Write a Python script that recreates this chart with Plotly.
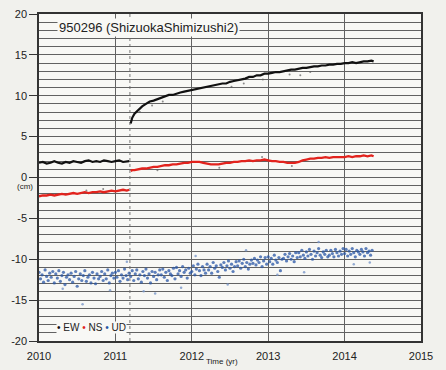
import plotly.graph_objects as go

QUAKE = 2011.19
YEAR_TICKS = [2010, 2011, 2012, 2013, 2014, 2015]
Y_TICKS = [-20, -15, -10, -5, 0, 5, 10, 15, 20]

PRE_T = [2010.00, 2010.05, 2010.10, 2010.15, 2010.20, 2010.25, 2010.30, 2010.35, 2010.40,
         2010.45, 2010.50, 2010.55, 2010.60, 2010.65, 2010.70, 2010.75, 2010.80, 2010.85,
         2010.90, 2010.95, 2011.00, 2011.05, 2011.10, 2011.15, 2011.18]
POST_T = [2011.20, 2011.22, 2011.25, 2011.30, 2011.35, 2011.40, 2011.45, 2011.50, 2011.55,
          2011.60, 2011.65, 2011.70, 2011.75, 2011.80, 2011.85, 2011.90, 2011.95, 2012.00,
          2012.05, 2012.10, 2012.15, 2012.20, 2012.25, 2012.30, 2012.35, 2012.40, 2012.45,
          2012.50, 2012.55, 2012.60, 2012.65, 2012.70, 2012.75, 2012.80, 2012.85, 2012.90,
          2012.95, 2013.00, 2013.05, 2013.10, 2013.15, 2013.20, 2013.25, 2013.30, 2013.35,
          2013.40, 2013.45, 2013.50, 2013.55, 2013.60, 2013.65, 2013.70, 2013.75, 2013.80,
          2013.85, 2013.90, 2013.95, 2014.00, 2014.05, 2014.10, 2014.15, 2014.20, 2014.25,
          2014.30, 2014.35, 2014.38]

EW_PRE = [1.8, 1.9, 1.7, 1.8, 2.0, 1.8, 1.7, 1.9, 1.8, 2.0, 1.9, 1.8, 2.0, 2.1, 1.9, 2.0,
          1.9, 2.1, 2.0, 1.9, 2.0, 2.1, 1.9, 2.0, 2.0]
EW_POST = [6.6, 7.3, 7.8, 8.3, 8.7, 9.0, 9.3, 9.4, 9.6, 9.8, 9.9, 10.1, 10.1, 10.3, 10.4,
           10.5, 10.6, 10.7, 10.8, 10.9, 11.0, 11.1, 11.2, 11.3, 11.4, 11.5, 11.5, 11.7,
           11.8, 11.9, 12.0, 12.1, 12.3, 12.3, 12.5, 12.5, 12.7, 12.7, 12.8, 12.9, 12.9,
           13.0, 13.1, 13.2, 13.2, 13.3, 13.4, 13.4, 13.5, 13.6, 13.6, 13.7, 13.7, 13.8,
           13.8, 13.9, 13.9, 14.0, 14.0, 14.1, 14.0, 14.1, 14.2, 14.2, 14.3, 14.2]
NS_PRE = [-2.3, -2.2, -2.2, -2.1, -2.2, -2.1, -2.0, -2.1, -2.0, -1.9, -2.0, -1.9, -1.8,
          -1.9, -1.8, -1.8, -1.7, -1.8, -1.7, -1.6, -1.7, -1.6, -1.5, -1.6, -1.5]
NS_POST = [0.8, 0.9, 0.9, 1.0, 1.1, 1.1, 1.2, 1.3, 1.3, 1.4, 1.5, 1.5, 1.6, 1.6, 1.7, 1.8,
           1.8, 1.9, 1.9, 1.9, 1.8, 1.7, 1.6, 1.6, 1.6, 1.7, 1.8, 1.8, 1.9, 1.9, 2.0, 2.0,
           2.1, 2.0, 2.1, 2.1, 2.2, 2.1, 2.0, 2.0, 1.9, 1.9, 1.8, 1.8, 1.8, 1.9, 2.1, 2.2,
           2.3, 2.3, 2.4, 2.4, 2.5, 2.4, 2.5, 2.5, 2.5, 2.5, 2.6, 2.5, 2.6, 2.6, 2.7, 2.6,
           2.7, 2.6]

# scattered daily values away from the main trend
EW_STRAY_T = [2011.32, 2011.48, 2011.62, 2012.52, 2012.68, 2012.93, 2013.28, 2013.42, 2013.55]
EW_STRAY = [8.0, 8.8, 9.3, 11.1, 11.5, 12.0, 12.6, 12.5, 12.9]
NS_STRAY_T = [2010.62, 2010.84, 2011.55, 2012.36, 2012.92, 2013.31]
NS_STRAY = [-1.6, -1.4, 0.9, 1.2, 2.5, 1.4]

UD_T = [2010.00, 2010.02, 2010.04, 2010.06, 2010.08, 2010.10, 2010.12, 2010.14, 2010.16, 2010.18,
        2010.20, 2010.22, 2010.24, 2010.26, 2010.28, 2010.30, 2010.32, 2010.34, 2010.36, 2010.38,
        2010.40, 2010.42, 2010.44, 2010.46, 2010.48, 2010.50, 2010.52, 2010.54, 2010.56, 2010.58,
        2010.60, 2010.62, 2010.64, 2010.66, 2010.68, 2010.70, 2010.72, 2010.74, 2010.76, 2010.78,
        2010.80, 2010.82, 2010.84, 2010.86, 2010.88, 2010.90, 2010.92, 2010.94, 2010.96, 2010.98,
        2011.00, 2011.02, 2011.04, 2011.06, 2011.08, 2011.10, 2011.12, 2011.14, 2011.16, 2011.18,
        2011.20, 2011.22, 2011.24, 2011.26, 2011.28, 2011.30, 2011.32, 2011.34, 2011.36, 2011.38,
        2011.40, 2011.42, 2011.44, 2011.46, 2011.48, 2011.50, 2011.52, 2011.54, 2011.56, 2011.58,
        2011.60, 2011.62, 2011.64, 2011.66, 2011.68, 2011.70, 2011.72, 2011.74, 2011.76, 2011.78,
        2011.80, 2011.82, 2011.84, 2011.86, 2011.88, 2011.90, 2011.92, 2011.94, 2011.96, 2011.98,
        2012.00, 2012.02, 2012.04, 2012.06, 2012.08, 2012.10, 2012.12, 2012.14, 2012.16, 2012.18,
        2012.20, 2012.22, 2012.24, 2012.26, 2012.28, 2012.30, 2012.32, 2012.34, 2012.36, 2012.38,
        2012.40, 2012.42, 2012.44, 2012.46, 2012.48, 2012.50, 2012.52, 2012.54, 2012.56, 2012.58,
        2012.60, 2012.62, 2012.64, 2012.66, 2012.68, 2012.70, 2012.72, 2012.74, 2012.76, 2012.78,
        2012.80, 2012.82, 2012.84, 2012.86, 2012.88, 2012.90, 2012.92, 2012.94, 2012.96, 2012.98,
        2013.00, 2013.02, 2013.04, 2013.06, 2013.08, 2013.10, 2013.12, 2013.14, 2013.16, 2013.18,
        2013.20, 2013.22, 2013.24, 2013.26, 2013.28, 2013.30, 2013.32, 2013.34, 2013.36, 2013.38,
        2013.40, 2013.42, 2013.44, 2013.46, 2013.48, 2013.50, 2013.52, 2013.54, 2013.56, 2013.58,
        2013.60, 2013.62, 2013.64, 2013.66, 2013.68, 2013.70, 2013.72, 2013.74, 2013.76, 2013.78,
        2013.80, 2013.82, 2013.84, 2013.86, 2013.88, 2013.90, 2013.92, 2013.94, 2013.96, 2013.98,
        2014.00, 2014.02, 2014.04, 2014.06, 2014.08, 2014.10, 2014.12, 2014.14, 2014.16, 2014.18,
        2014.20, 2014.22, 2014.24, 2014.26, 2014.28, 2014.30, 2014.32, 2014.34, 2014.36]
UD = [-11.6, -12.4, -11.9, -12.8, -11.3, -12.1, -12.6, -11.7, -12.2, -11.5,
      -12.9, -11.8, -12.3, -11.4, -12.7, -12.0, -11.6, -13.1, -12.2, -11.9,
      -12.5, -11.7, -12.8, -12.1, -11.5, -13.3, -12.4, -11.8, -12.6, -12.0,
      -11.4, -12.7, -12.2, -11.9, -12.9, -11.6, -12.3, -13.0, -11.8, -12.4,
      -12.1, -11.5, -12.6, -11.8, -12.4, -11.3, -12.9, -12.0, -11.7, -12.3,
      -11.6, -12.2, -11.4, -12.7, -11.9, -12.3, -11.2, -12.0, -12.5, -11.7,
      -12.1, -11.4, -12.6, -11.8, -11.3, -12.4, -11.9, -12.8, -11.5, -12.0,
      -11.2, -12.3, -11.8, -12.9, -11.5, -12.1, -11.6, -12.5, -11.9, -11.3,
      -11.9, -11.2, -12.2, -11.6, -12.6, -11.4, -11.8, -12.0, -11.1, -12.4,
      -11.0, -11.8, -11.4, -12.1, -10.9, -11.6, -11.3, -12.3, -11.1, -11.7,
      -11.5, -10.8, -11.9, -11.2, -10.6, -11.4, -12.0, -10.9, -11.3, -11.7,
      -10.6, -11.3, -10.9, -11.7, -10.4, -11.1, -10.8, -11.5, -12.2, -10.7,
      -11.0, -10.4, -11.3, -10.8, -10.2, -11.1, -10.6, -11.5, -10.9, -10.3,
      -10.8, -10.2, -11.1, -10.5, -10.0, -10.9, -10.4, -11.2, -10.6, -10.1,
      -10.5, -9.9, -10.7, -10.1, -10.4, -9.7, -10.9, -10.2, -9.8, -10.6,
      -9.7, -10.3, -9.9, -10.6, -9.5, -10.1, -10.4, -9.8, -11.4, -10.0,
      -9.9, -9.4, -10.2, -9.7, -9.3, -10.0, -9.6, -10.3, -9.2, -9.8,
      -9.2, -9.7, -8.9, -9.5, -9.9, -9.1, -9.6, -8.8, -9.4, -10.0,
      -9.0, -9.6, -9.2, -8.7, -9.5, -9.8, -9.1, -9.4, -8.9, -9.7,
      -9.5, -8.9, -9.3, -9.7, -8.8, -9.2, -9.6, -9.0, -9.4, -8.7,
      -9.3, -8.8, -9.6, -9.0, -9.4, -8.7, -9.2, -9.7, -8.9, -9.1,
      -9.4, -8.8, -9.1, -9.6, -8.7, -9.2, -9.0, -9.5, -8.9]
UD_STRAY_T = [2010.31, 2010.57, 2010.93, 2011.15, 2011.37, 2011.52, 2011.86, 2012.05,
              2012.47, 2012.71, 2013.12, 2013.47, 2013.66, 2014.12, 2014.33]
UD_STRAY = [-13.6, -15.5, -13.8, -10.3, -13.9, -14.2, -13.5, -9.6, -13.1, -8.9,
            -11.9, -11.6, -7.9, -10.6, -10.4]

GRID = "#626262"
FRAME = "#333333"
INK = "#222222"
PLOT_BG = "#f8f8f5"

fig = go.Figure()
fig.add_trace(go.Scatter(x=UD_STRAY_T, y=UD_STRAY, mode="markers",
                         marker={"color": "rgba(120,150,200,0.8)", "size": 2.5}))
fig.add_trace(go.Scatter(x=UD_T, y=UD, mode="markers",
                         marker={"color": "rgba(40,85,165,0.75)", "size": 3.2}))
fig.add_trace(go.Scatter(x=EW_STRAY_T + NS_STRAY_T, y=EW_STRAY + NS_STRAY, mode="markers",
                         marker={"color": "rgba(90,90,90,0.7)", "size": 2}))
fig.add_trace(go.Scatter(x=PRE_T + [None] + POST_T, y=NS_PRE + [None] + NS_POST,
                         mode="lines", line={"color": "#e2231d", "width": 2.3}))
fig.add_trace(go.Scatter(x=PRE_T + [None] + POST_T, y=EW_PRE + [None] + EW_POST,
                         mode="lines", line={"color": "#111111", "width": 2.2}))

fig.add_vline(x=QUAKE, line={"color": "#777777", "width": 1, "dash": "3px,3px"}, layer="below")

fig.add_annotation(x=2010.235, y=18.4, xanchor="left", yanchor="middle",
                   text="950296 (ShizuokaShimizushi2)", showarrow=False,
                   font={"size": 13, "color": INK}, bgcolor=PLOT_BG, borderpad=1)
fig.add_annotation(x=2010.22, y=-18.4, xanchor="left", yanchor="middle", showarrow=False,
                   text="<span style='color:#111'>•</span> EW "
                        "<span style='color:#e2231d'>•</span> NS "
                        "<span style='color:#2855a5'>•</span> UD",
                   font={"size": 10, "color": INK}, bgcolor=PLOT_BG, borderpad=0)
fig.add_annotation(xref="paper", x=0, xanchor="right", xshift=-4, y=-1.1, yanchor="middle",
                   text="(cm)", showarrow=False, font={"size": 8, "color": INK})
fig.add_annotation(x=2012.4, yref="paper", y=0, yanchor="top", yshift=-14,
                   text="Time (yr)", showarrow=False, font={"size": 8, "color": INK})

fig.update_layout(
    width=446,
    height=370,
    margin={"l": 39, "r": 25, "t": 8, "b": 22},
    paper_bgcolor="#f1f1ed",
    plot_bgcolor=PLOT_BG,
    showlegend=False,
    font={"family": "Liberation Sans, Arial, sans-serif", "size": 11, "color": INK},
)
fig.update_xaxes(
    range=[2010, 2015], tickvals=YEAR_TICKS, ticktext=[str(v) for v in YEAR_TICKS],
    showgrid=True, gridcolor=GRID, gridwidth=1, zeroline=False,
    showline=True, linecolor=FRAME, linewidth=1.5, mirror=True,
    ticks="", ticklabelstandoff=4,
)
fig.update_yaxes(
    range=[-20, 20], tickvals=Y_TICKS, ticktext=[str(v) for v in Y_TICKS],
    showgrid=True, gridcolor=GRID, gridwidth=1, zeroline=False,
    showline=True, linecolor=FRAME, linewidth=1.5, mirror=True,
    ticks="outside", ticklen=8, tickcolor=FRAME,
    minor={"dtick": 1, "showgrid": True, "gridcolor": GRID, "gridwidth": 1, "ticks": ""},
)

fig.write_html("out.html", config={"displayModeBar": False},
               post_script="document.body.style.margin='0';")
